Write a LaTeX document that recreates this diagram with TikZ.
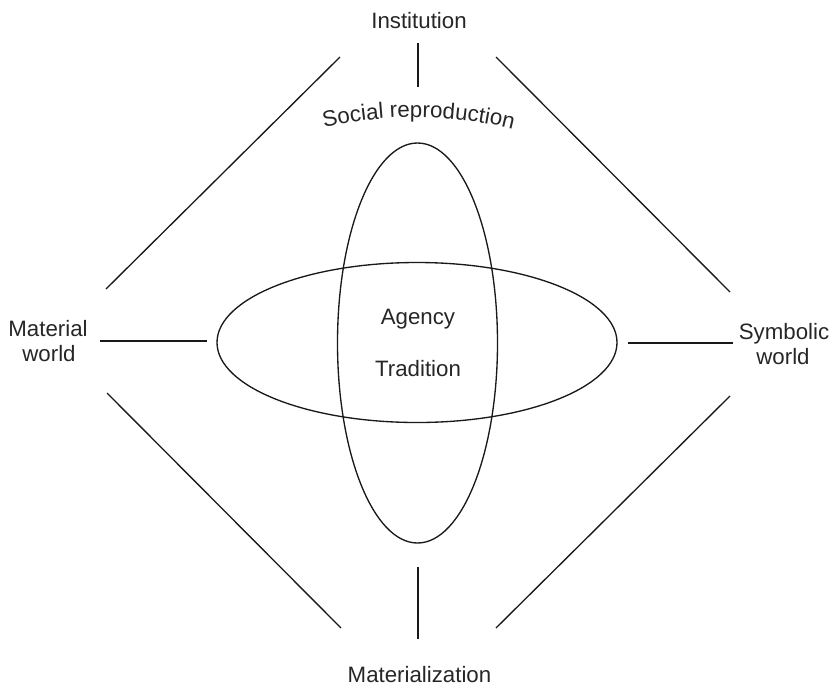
\documentclass[tikz,border=0pt]{standalone}
\usepackage{fontspec}
\setmainfont{Liberation Sans}
\usetikzlibrary{shapes.geometric,decorations.text}
\begin{document}
\begin{tikzpicture}[x=0.75pt,y=-0.75pt,
  lbl/.style={font=\fontsize{16.7}{20}\selectfont, inner sep=0pt, anchor=base, text=black!85},
  conn/.style={line width=1pt, draw=black!90, line cap=butt},
  oval/.style={draw=black!90, line width=1pt, ellipse, inner sep=0pt}]
\useasboundingbox (0,0) rectangle (838,686);
% ellipses
\node[oval, minimum width=300pt, minimum height=120pt] (hov) at (417,342.5) {};
\node[oval, minimum width=120pt, minimum height=300pt] (vov) at (417.5,343) {};
% labels
\node[lbl] (inst) at (419,28) {Institution};
\node[lbl] (mat) at (419.5,682) {Materialization};
\node[lbl] (matw1) at (48,336) {Material};
\node[lbl] (matw2) at (49,361) {world};
\node[lbl] (sym1) at (784,339) {Symbolic};
\node[lbl] (sym2) at (783,364) {world};
\node[lbl] (agency) at (418,324.5) {Agency};
\node[lbl] (trad) at (418,376.5) {Tradition};
\path[decorate, decoration={text along path, text align=center,
  text={|\fontsize{16.7}{20}\selectfont\color{black!85}|Social reproduction}}]
  (318,129) .. controls (382,113) and (454,113) .. (519,131);
% connector end points
\coordinate (t1) at (418,43);   \coordinate (t2) at (418,87);
\coordinate (b1) at (418,567);  \coordinate (b2) at (418,639);
\coordinate (l1) at (100,341);  \coordinate (l2) at (207,341);
\coordinate (r1) at (628,343);  \coordinate (r2) at (733,343);
\coordinate (ul1) at (106,289); \coordinate (ul2) at (340,57);
\coordinate (ur1) at (496,57);  \coordinate (ur2) at (730,292);
\coordinate (ll1) at (107,393); \coordinate (ll2) at (341,628);
\coordinate (lr1) at (496,628); \coordinate (lr2) at (730,396);
% connectors
\draw[conn] (t1) -- (t2);
\draw[conn] (b1) -- (b2);
\draw[conn, line width=0.8pt] (l1) -- (l2);
\draw[conn, line width=0.8pt] (r1) -- (r2);
\draw[conn] (ul1) -- (ul2);
\draw[conn] (ur1) -- (ur2);
\draw[conn] (ll1) -- (ll2);
\draw[conn] (lr1) -- (lr2);
\end{tikzpicture}
\end{document}
